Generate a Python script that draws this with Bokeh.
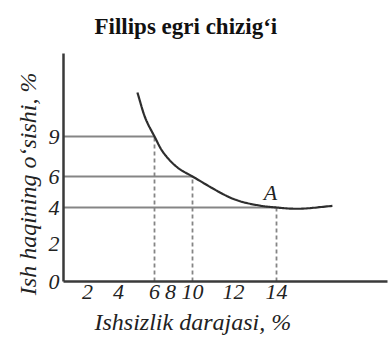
import numpy as np
from bokeh.plotting import figure
from bokeh.models import Range1d, FixedTicker, Title
from bokeh.core.properties import value
from bokeh.embed import file_html
from bokeh.resources import INLINE

# ---- data -------------------------------------------------------------
# Phillips curve: unemployment rate (%) vs. wage growth (%)
curve_unemp = [5.05, 5.5, 6, 7.1, 8.6, 10, 12, 13.2, 14, 15, 16.6]
curve_wage = [12.3, 10.35, 9, 7.8, 6.7, 6, 4.55, 4.13, 4, 3.93, 4.1]

# marked points on the curve
mark_unemp = [6, 10, 14]
mark_wage = [9, 6, 4]
mark_names = ["", "", "A"]

x_tick_values = [2, 4, 6, 8, 10, 12, 14]
y_tick_values = [0, 2, 4, 6, 9]

title_text = "Fillips egri chizig‘i"
x_title = "Ishsizlik darajasi, %"
y_title = "Ish haqining o‘sishi, %"

# ---- hand-drawn axis scales (value -> pixel offset from the origin) ----
X_CAL_VAL = [0, 2, 4, 6, 8, 10, 12, 14, 20]
X_CAL_OFF = [0, 24, 55, 91, 107, 129, 170, 213, 342]
Y_CAL_VAL = [0, 2, 4, 6, 9, 15]
Y_CAL_OFF = [0, 38, 74, 105, 145, 225]


def xpos(v):
    return np.interp(v, X_CAL_VAL, X_CAL_OFF)


def ypos(v):
    return np.interp(v, Y_CAL_VAL, Y_CAL_OFF)


def smooth_path(px, py, n=20, alpha=0.5):
    """Centripetal Catmull-Rom path through the given points."""
    P = np.column_stack([px, py]).astype(float)
    P = np.vstack([2 * P[0] - P[1], P, 2 * P[-1] - P[-2]])
    out = []
    for i in range(1, len(P) - 2):
        p0, p1, p2, p3 = P[i - 1], P[i], P[i + 1], P[i + 2]
        t0 = 0.0
        t1 = t0 + np.linalg.norm(p1 - p0) ** alpha
        t2 = t1 + np.linalg.norm(p2 - p1) ** alpha
        t3 = t2 + np.linalg.norm(p3 - p2) ** alpha
        t = np.linspace(t1, t2, n)[:, None]
        a1 = (t1 - t) / (t1 - t0) * p0 + (t - t0) / (t1 - t0) * p1
        a2 = (t2 - t) / (t2 - t1) * p1 + (t - t1) / (t2 - t1) * p2
        a3 = (t3 - t) / (t3 - t2) * p2 + (t - t2) / (t3 - t2) * p3
        b1 = (t2 - t) / (t2 - t0) * a1 + (t - t0) / (t2 - t0) * a2
        b2 = (t3 - t) / (t3 - t1) * a2 + (t - t1) / (t3 - t1) * a3
        c = (t2 - t) / (t2 - t1) * b1 + (t - t1) / (t2 - t1) * b2
        out.append(c if i == 1 else c[1:])
    out = np.vstack(out)
    return out[:, 0], out[:, 1]


SERIF = "Liberation Serif"
INK = "#2e2e2e"
GUIDE = "#858585"
TEXT = "#222222"

p = figure(
    width=389, height=341,
    x_range=Range1d(0, 324), y_range=Range1d(0, 228),
    output_backend="svg", toolbar_location=None,
    min_border_left=63, min_border_right=2,
    min_border_top=53, min_border_bottom=60,
)
p.outline_line_color = None
p.xgrid.visible = False
p.ygrid.visible = False
p.background_fill_color = "white"
p.border_fill_color = "white"

# title
p.title.text = title_text
p.title.text_font = SERIF
p.title.text_font_style = "bold"
p.title.text_font_size = "23px"
p.title.text_color = "#111111"
p.title.align = "left"
p.title.vertical_align = "top"
p.title.offset = 31
p.title.standoff = 25

# axes
for ax in (p.xaxis[0], p.yaxis[0]):
    ax.axis_line_color = "#3a3a3a"
    ax.axis_line_width = 2.5
    ax.major_tick_line_color = None
    ax.minor_tick_line_color = None
    ax.major_label_text_font = SERIF
    ax.major_label_text_font_style = "italic"
    ax.major_label_text_font_size = "22px"
    ax.major_label_text_color = TEXT

xt = [float(xpos(v)) for v in x_tick_values]
p.xaxis.ticker = FixedTicker(ticks=xt)
p.xaxis.major_label_overrides = {t: str(v) for t, v in zip(xt, x_tick_values)}
p.xaxis.major_label_standoff = -3

yt = [float(ypos(v)) for v in y_tick_values]
p.yaxis.ticker = FixedTicker(ticks=yt)
p.yaxis.major_label_standoff = -2
p.yaxis.major_label_overrides = {t: str(v) for t, v in zip(yt, y_tick_values)}

p.add_layout(Title(text=x_title, align="left", offset=31, standoff=10,
                   text_font=SERIF, text_font_style="italic",
                   text_font_size="24px", text_color=TEXT), "below")
p.add_layout(Title(text=y_title, align="right", offset=19, standoff=10,
                   text_font=SERIF, text_font_style="italic",
                   text_font_size="24px", text_color=TEXT), "left")

# guide lines to the marked points
mx = xpos(mark_unemp)
my = ypos(mark_wage)
p.segment(x0=np.zeros(len(mx)), y0=my, x1=mx, y1=my,
          line_color=GUIDE, line_width=2)
p.segment(x0=mx, y0=np.zeros(len(my)), x1=mx, y1=my,
          line_color=GUIDE, line_width=1.8, line_dash="4 3")

# the curve
cx, cy = smooth_path(xpos(curve_unemp), ypos(curve_wage))
p.line(cx, cy, line_color=INK, line_width=2.2)

# point label
p.text(x=mx, y=my, text=mark_names, x_offset=-6, y_offset=-15,
       text_align="center", text_baseline="middle",
       text_font=value(SERIF), text_font_style="italic",
       text_font_size="22px", text_color=TEXT)

open("out.html", "w").write(file_html(p, INLINE))
